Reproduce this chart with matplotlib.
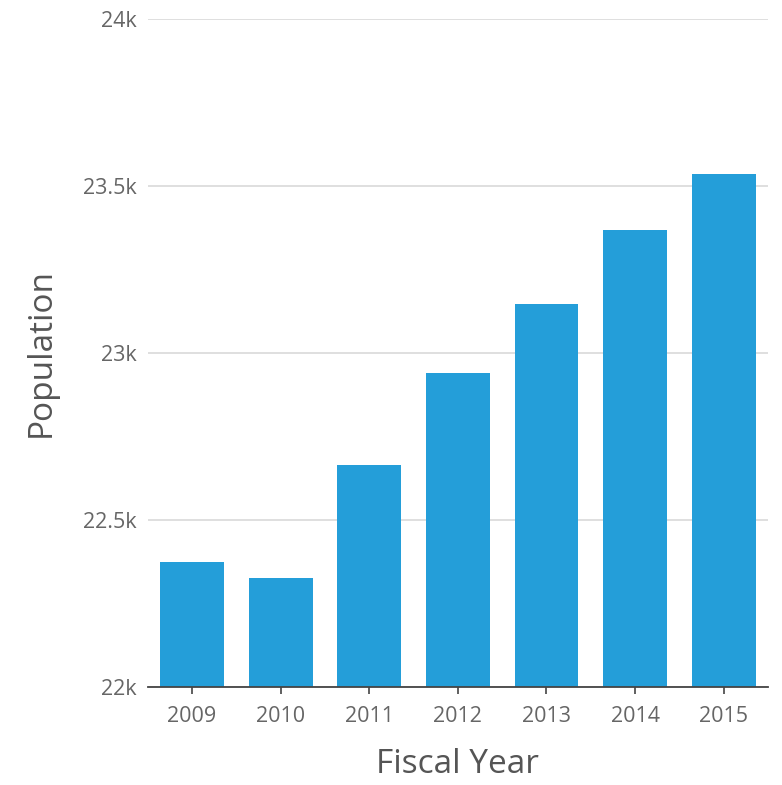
import matplotlib.pyplot as plt
from matplotlib.ticker import FuncFormatter

plt.rcParams['font.family'] = ['Open Sans', 'DejaVu Sans']

years = ['2009', '2010', '2011', '2012', '2013', '2014', '2015']
population = [22373, 22327, 22665, 22939, 23147, 23368, 23536]
y_ticks = [22000, 22500, 23000, 23500, 24000]

bar_color = '#249ED9'
text_color = '#666666'

fig = plt.figure(figsize=(7.82, 7.85), dpi=100)
ax = fig.add_axes([0.189, 0.125, 0.793, 0.851])

x = range(len(years))
ax.bar(x, population, width=0.72, color=bar_color, zorder=3)

ax.set_xlim(-0.5, 6.5)
ax.set_ylim(22000, 24000)
ax.set_yticks(y_ticks)
ax.yaxis.set_major_formatter(FuncFormatter(lambda v, p: ('%g' % (v / 1000)) + 'k'))
ax.set_xticks(list(x))
ax.set_xticklabels(years)

# light horizontal grid, no left spine
ax.grid(axis='y', color='#d9d9d9', linewidth=1.2, zorder=0)
ax.grid(axis='x', visible=False)
for s in ['left', 'right', 'top']:
    ax.spines[s].set_visible(False)
ax.spines['bottom'].set_color('#444444')
ax.spines['bottom'].set_linewidth(1.3)
ax.spines['bottom'].set_zorder(4)

ax.tick_params(axis='y', length=0, pad=8, labelsize=15.5, labelcolor=text_color)
ax.tick_params(axis='x', length=5, width=1.2, color='#444444', pad=9,
               labelsize=15.5, labelcolor=text_color)

ax.set_xlabel('Fiscal Year', fontsize=24, color='#555555', labelpad=15)
ax.set_ylabel('Population', fontsize=24, color='#555555', labelpad=18)

fig.savefig('out.png', dpi=100)
